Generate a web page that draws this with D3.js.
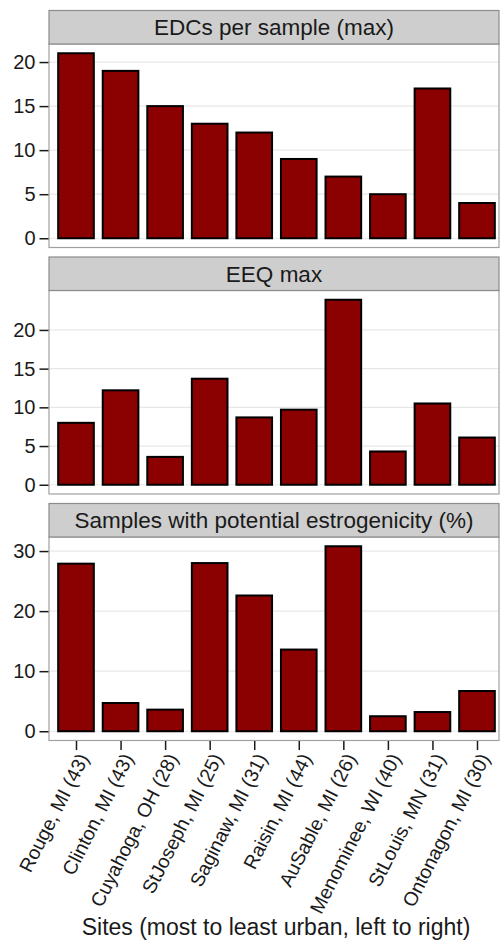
<!DOCTYPE html>
<html>
<head>
<meta charset="utf-8">
<script src="https://cdn.jsdelivr.net/npm/d3@7"></script>
<style>
  html, body { margin: 0; padding: 0; background: #fff; }
  svg { display: block; }
  text { font-family: "Liberation Sans", Arial, Helvetica, sans-serif; fill: #1a1a1a; }
</style>
</head>
<body>
<svg id="chart" width="501" height="940"></svg>
<script>
// Sites ordered from most to least urban; sample counts in parentheses
const sites = [
  "Rouge, MI (43)", "Clinton, MI (43)", "Cuyahoga, OH (28)", "StJoseph, MI (25)",
  "Saginaw, MI (31)", "Raisin, MI (44)", "AuSable, MI (26)", "Menominee, WI (40)",
  "StLouis, MN (31)", "Ontonagon, MI (30)"
];

// Maximum number of EDCs detected in a single sample
const edcsPerSample = [21, 19, 15, 13, 12, 9, 7, 5, 17, 4];

// Maximum estradiol equivalent (EEQ)
const eeqMax = [8.0, 12.2, 3.6, 13.7, 8.7, 9.7, 23.9, 4.3, 10.5, 6.1];

// Percentage of samples with potential estrogenicity
const pctEstrogenic = [27.9, 4.7, 3.6, 28.0, 22.6, 13.6, 30.8, 2.5, 3.2, 6.7];

const panelTitles = [
  "EDCs per sample (max)",
  "EEQ max",
  "Samples with potential estrogenicity (%)"
];
const panelTicks = [
  [0, 5, 10, 15, 20],
  [0, 5, 10, 15, 20],
  [0, 10, 20, 30]
];
const xTitle = "Sites (most to least urban, left to right)";

const panels = [edcsPerSample, eeqMax, pctEstrogenic].map((values, i) => ({
  title: panelTitles[i], values, ticks: panelTicks[i]
}));

// Layout
const left = 49, right = 499;
const stripTops = [10.5, 257, 503.5];
const stripH = 33.5, plotH = 203.5;
const barFill = "#8b0000";

const svg = d3.select("#chart");

const x = d3.scalePoint().domain(sites).range([76, 477]);
const barW = x.step() * 0.8;

panels.forEach((p, i) => {
  const top = stripTops[i];
  const plotTop = top + stripH;
  const plotBottom = plotTop + plotH;
  const vmax = d3.max(p.values);
  const y = d3.scaleLinear()
    .domain([-0.05 * vmax, 1.05 * vmax])
    .range([plotBottom, plotTop]);

  const g = svg.append("g");

  // panel background
  g.append("rect")
    .attr("x", left).attr("y", plotTop)
    .attr("width", right - left).attr("height", plotH)
    .attr("fill", "#fff");

  // major gridlines
  g.selectAll("line.grid")
    .data(p.ticks)
    .join("line")
    .attr("class", "grid")
    .attr("x1", left).attr("x2", right)
    .attr("y1", d => y(d)).attr("y2", d => y(d))
    .attr("stroke", "#e8e8e8").attr("stroke-width", 1.2);

  // bars
  g.selectAll("rect.bar")
    .data(p.values)
    .join("rect")
    .attr("class", "bar")
    .attr("x", (d, j) => x(sites[j]) - barW / 2)
    .attr("width", barW)
    .attr("y", d => y(d))
    .attr("height", d => y(0) - y(d))
    .attr("fill", barFill)
    .attr("stroke", "#000")
    .attr("stroke-width", 2);

  // panel border
  g.append("rect")
    .attr("x", left).attr("y", plotTop)
    .attr("width", right - left).attr("height", plotH)
    .attr("fill", "none")
    .attr("stroke", "#a0a0a0").attr("stroke-width", 1.2);

  // strip
  g.append("rect")
    .attr("x", left).attr("y", top)
    .attr("width", right - left).attr("height", stripH)
    .attr("fill", "#cecece")
    .attr("stroke", "#8c8c8c").attr("stroke-width", 1.2);
  g.append("text")
    .attr("x", (left + right) / 2)
    .attr("y", top + stripH / 2)
    .attr("dy", "0.36em")
    .attr("text-anchor", "middle")
    .attr("font-size", 22.5)
    .text(p.title);

  // y axis
  const yAxis = d3.axisLeft(y)
    .tickValues(p.ticks)
    .tickSize(9)
    .tickPadding(4);
  const ag = g.append("g")
    .attr("transform", `translate(${left - 0.5},0)`)
    .call(yAxis);
  ag.select(".domain").remove();
  ag.selectAll(".tick line").attr("stroke", "#1a1a1a").attr("stroke-width", 1.5);
  ag.selectAll(".tick text")
    .attr("font-size", 20)
    .attr("fill", "#1a1a1a")
    .style("font-family", '"Liberation Sans", Arial, sans-serif');

  // x axis only under the last panel
  if (i === panels.length - 1) {
    const xAxis = d3.axisBottom(x).tickSize(9).tickFormat("");
    const xg = g.append("g")
      .attr("transform", `translate(0,${plotBottom + 0.5})`)
      .call(xAxis);
    xg.select(".domain").remove();
    xg.selectAll(".tick line").attr("stroke", "#1a1a1a").attr("stroke-width", 1.5);

    g.selectAll("text.xlab")
      .data(sites)
      .join("text")
      .attr("class", "xlab")
      .attr("transform", d => `translate(${x(d) + 1},${plotBottom + 11}) rotate(-63)`)
      .attr("text-anchor", "end")
      .attr("dy", "0.72em")
      .attr("font-size", 19.5)
      .text(d => d);
  }
});

// x axis title
svg.append("text")
  .attr("x", 276)
  .attr("y", 935)
  .attr("text-anchor", "middle")
  .attr("font-size", 23)
  .text(xTitle);
</script>
</body>
</html>
